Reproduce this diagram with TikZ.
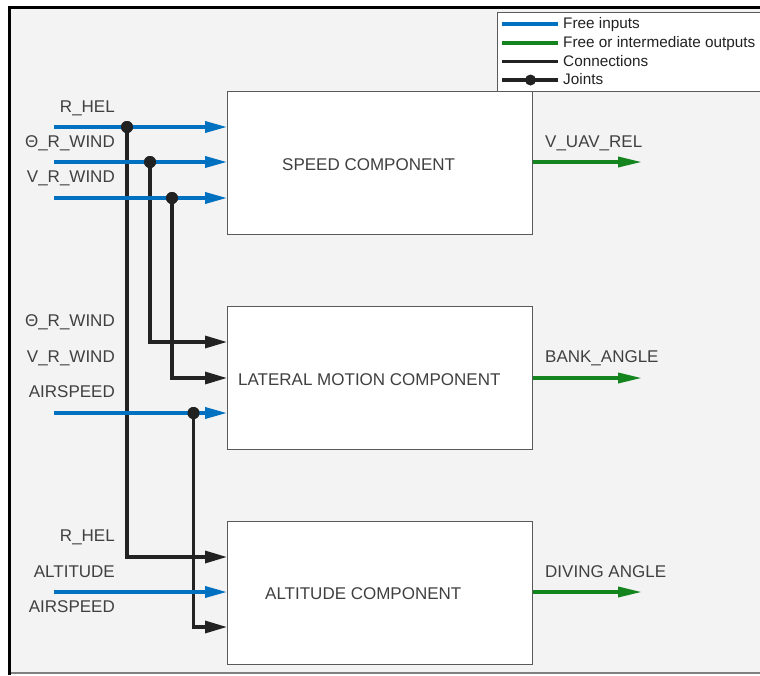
\documentclass[tikz,border=0pt]{standalone}
\usepackage{fontspec}
\setmainfont{Liberation Sans}
\usetikzlibrary{arrows.meta}
\definecolor{inblue}{RGB}{0,112,192}
\definecolor{outgreen}{RGB}{20,132,30}
\definecolor{conblack}{RGB}{34,34,34}
\definecolor{bggray}{RGB}{243,243,243}
\definecolor{txtgray}{RGB}{64,64,64}
\definecolor{boxedge}{RGB}{90,90,90}
\tikzset{
  comp/.style={draw=boxedge, line width=1pt, fill=white, minimum width=305pt, minimum height=143pt, inner sep=0pt, anchor=north west},
  comptext/.style={font=\fontsize{17}{20}\selectfont, text=txtgray, anchor=base west, inner sep=0pt},
  inlabel/.style={font=\fontsize{17}{20}\selectfont, text=txtgray, anchor=base east, inner sep=0pt},
  outlabel/.style={font=\fontsize{17}{20}\selectfont, text=txtgray, anchor=base west, inner sep=0pt},
  legtext/.style={font=\fontsize{15.3}{17}\selectfont, text=conblack, anchor=base west, inner sep=0pt},
  inline/.style={draw=inblue, line width=3.5pt, -{Triangle[length=22pt,width=11pt]}},
  outline/.style={draw=outgreen, line width=3.5pt, -{Triangle[length=24pt,width=10pt]}},
  conline/.style={draw=conblack, line width=3.2pt, -{Triangle[length=22pt,width=12pt]}},
  joint/.style={circle, fill=conblack, minimum size=12pt, inner sep=0pt},
}
\begin{document}
\begin{tikzpicture}[x=1pt,y=-1pt]
\useasboundingbox (0,0) rectangle (760,675);
% background and frame
\fill[bggray] (9.5,7.5) rectangle (760,673);
\draw[gray, line width=2pt] (9.5,673) -- (760,673);
\draw[black, line width=3pt] (760,7.5) -- (9.5,7.5) -- (9.5,675);
% boxes
\node[comp] (speed) at (227,91) {};
\node[comp] (lateral) at (227,306) {};
\node[comp] (alt) at (227,521) {};
\node[comptext] (speedt) at (282,170) {SPEED COMPONENT};
\node[comptext] (latt) at (238,385) {LATERAL MOTION COMPONENT};
\node[comptext] (altt) at (265,599.5) {ALTITUDE COMPONENT};
% input labels
\node[inlabel] (l1) at (115,112) {R\_HEL};
\node[inlabel] (l2) at (115,147) {Θ\_R\_WIND};
\node[inlabel] (l3) at (115,182) {V\_R\_WIND};
\node[inlabel] (l4) at (115,326) {Θ\_R\_WIND};
\node[inlabel] (l5) at (115,362) {V\_R\_WIND};
\node[inlabel] (l6) at (115,397) {AIRSPEED};
\node[inlabel] (l7) at (115,541) {R\_HEL};
\node[inlabel] (l8) at (115,577) {ALTITUDE};
\node[inlabel] (l9) at (115,612.5) {AIRSPEED};
% input coordinates
\coordinate (i1) at (54,127);
\coordinate (i2) at (54,162);
\coordinate (i3) at (54,198);
\coordinate (i4) at (54,413);
\coordinate (i5) at (54,592);
% joints
\node[joint] (j1) at (127,127) {};
\node[joint] (j2) at (150,162) {};
\node[joint] (j3) at (172,198) {};
\node[joint] (j4) at (193.5,413) {};
% connections
\coordinate (c1) at (127,557);
\coordinate (c2) at (150,342);
\coordinate (c3) at (172,378);
\coordinate (c4) at (193.5,627);
\draw[conline] (j1.center) -- (c1) -- (alt.west |- c1);
\draw[conline] (j2.center) -- (c2) -- (lateral.west |- c2);
\draw[conline] (j3.center) -- (c3) -- (lateral.west |- c3);
\draw[conline] (j4.center) -- (c4) -- (alt.west |- c4);
% free inputs
\draw[inline] (i1) -- (speed.west |- i1);
\draw[inline] (i2) -- (speed.west |- i2);
\draw[inline] (i3) -- (speed.west |- i3);
\draw[inline] (i4) -- (lateral.west |- i4);
\draw[inline] (i5) -- (alt.west |- i5);
% joints on top
\node[joint] at (j1) {};
\node[joint] at (j2) {};
\node[joint] at (j3) {};
\node[joint] at (j4) {};
% outputs
\coordinate (o1) at (642,162);
\coordinate (o2) at (642,378);
\coordinate (o3) at (642,592);
\draw[outline] (speed.east |- o1) -- (o1);
\draw[outline] (lateral.east |- o2) -- (o2);
\draw[outline] (alt.east |- o3) -- (o3);
\node[outlabel] (ol1) at (545,147) {V\_UAV\_REL};
\node[outlabel] (ol2) at (545,362) {BANK\_ANGLE};
\node[outlabel] (ol3) at (545,577) {DIVING ANGLE};
% legend
\draw[fill=white, draw=boxedge, line width=1.5pt] (497.5,12.5) rectangle (762,91.5);
\coordinate (la1) at (502,24); \coordinate (lb1) at (558,24);
\coordinate (la2) at (502,43); \coordinate (lb2) at (558,43);
\coordinate (la3) at (502,61.5); \coordinate (lb3) at (558,61.5);
\coordinate (la4) at (502,80); \coordinate (lb4) at (558,80);
\draw[inblue, line width=3.5pt] (la1) -- (lb1);
\draw[outgreen, line width=3.5pt] (la2) -- (lb2);
\draw[conblack, line width=3.2pt] (la3) -- (lb3);
\draw[conblack, line width=3.2pt] (la4) -- (lb4);
\node[joint, minimum size=11pt] (lj) at (530.5,80) {};
\node[legtext] (t1) at (563,28.5) {Free inputs};
\node[legtext] (t2) at (563,47.5) {Free or intermediate outputs};
\node[legtext] (t3) at (563,66) {Connections};
\node[legtext] (t4) at (563,84.5) {Joints};
\end{tikzpicture}
\end{document}
